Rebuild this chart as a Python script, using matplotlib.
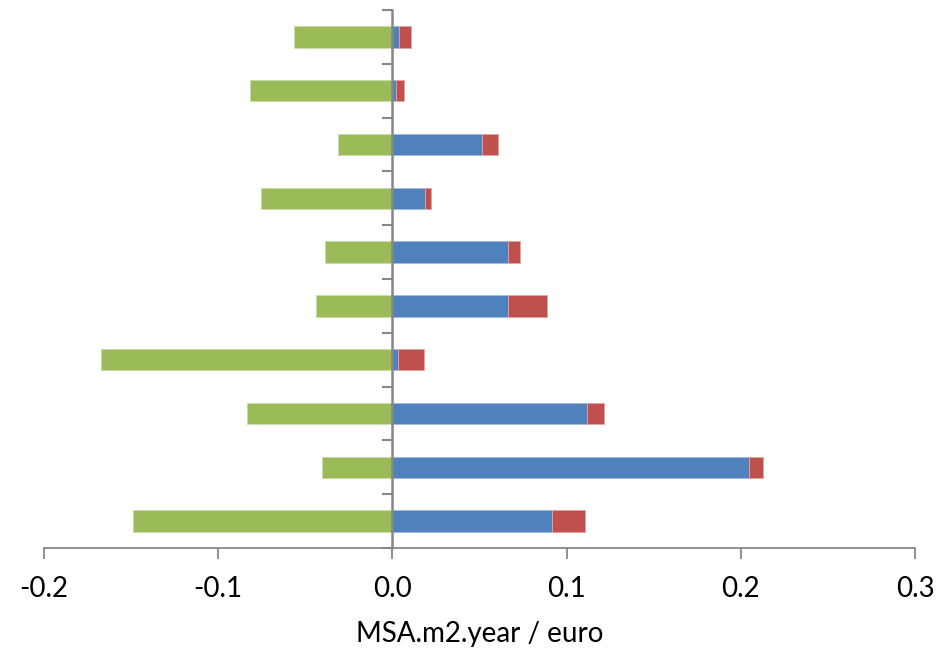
import numpy as np
import matplotlib.pyplot as plt

plt.rcParams['font.family'] = ['Lato', 'DejaVu Sans']

# Values per row, top to bottom
rows = list(range(10))
green_vals = [-0.0563, -0.0817, -0.0315, -0.0755, -0.0388, -0.0438, -0.1674, -0.0837, -0.0405, -0.1487]
blue_vals = [0.0036, 0.0021, 0.0516, 0.0187, 0.0665, 0.0665, 0.0032, 0.1116, 0.2047, 0.0919]
red_vals = [0.0070, 0.0044, 0.0092, 0.0033, 0.0069, 0.0224, 0.0147, 0.0098, 0.0082, 0.0185]

xticks = [-0.2, -0.1, 0.0, 0.1, 0.2, 0.3]

fig = plt.figure(figsize=(9.4, 6.51), dpi=100)
ax = fig.add_axes([0.0468, 0.1582, 0.9266, 0.8264])

y = np.array(rows)
h = 0.4
ax.barh(y, green_vals, height=h, color='#9BBB59', edgecolor='#C9DBA8', linewidth=0.6)
ax.barh(y, blue_vals, height=h, color='#4F81BD', edgecolor='#A3BDE0', linewidth=0.6)
ax.barh(y, red_vals, left=blue_vals, height=h, color='#C0504D', edgecolor='#E3A3A1', linewidth=0.6)

ax.set_xlim(-0.2, 0.3)
ax.set_ylim(9.5, -0.5)

# axis styling
axis_col = '#878787'
for s in ['top', 'right']:
    ax.spines[s].set_visible(False)
ax.spines['left'].set_position(('data', 0))
ax.spines['left'].set_color(axis_col)
ax.spines['left'].set_linewidth(1.8)
ax.spines['bottom'].set_color(axis_col)
ax.spines['bottom'].set_linewidth(1.3)

ax.set_yticks(np.arange(-0.5, 10, 1))
ax.set_yticklabels([])
ax.tick_params(axis='y', direction='out', length=7, width=1.5, color=axis_col)

ax.set_xticks(xticks)
ax.set_xticklabels(['%.1f' % v for v in xticks])
ax.tick_params(axis='x', direction='out', length=8, width=1.3, color=axis_col,
               labelsize=20, pad=12)

ax.set_xlabel('MSA.m2.year / euro', fontsize=20, labelpad=14)

fig.savefig('out.png', dpi=100)
